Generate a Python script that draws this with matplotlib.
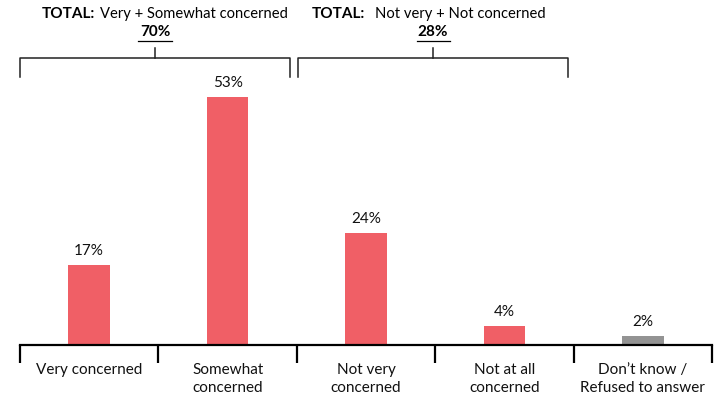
import numpy as np
import matplotlib
matplotlib.use("Agg")
import matplotlib.pyplot as plt

# datos
categories = ["Very concerned", "Somewhat\nconcerned", "Not very\nconcerned",
              "Not at all\nconcerned", "Don\u2019t know /\nRefused to answer"]
values = [17, 53, 24, 4, 2]
bar_colors = ["#F05F66", "#F05F66", "#F05F66", "#F05F66", "#939393"]
totals = [70, 28]
total_labels = ["Very + Somewhat concerned", "Not very + Not concerned"]

plt.rcParams['font.family'] = ['Lato', 'DejaVu Sans']
plt.rcParams['font.size'] = 11

fig = plt.figure(figsize=(7.19, 3.96), dpi=100)
ax = fig.add_axes([20/719, 51/396, 692/719, 281/396])

x = np.arange(len(values))
bars = ax.bar(x, values, width=0.3, color=bar_colors, zorder=2)
for xi, v in zip(x, values):
    ax.annotate(f"{v}%", (xi, v), xytext=(0, 5), textcoords="offset points",
                ha="center", va="bottom", fontsize=11, color="#111111")

ax.set_xlim(-0.5, 4.5)
ax.set_ylim(0, 60)
ax.set_yticks([])
for s in ["top", "right", "left"]:
    ax.spines[s].set_visible(False)
ax.spines["bottom"].set_linewidth(1.6)
ax.set_xticks(x)
ax.set_xticklabels(categories, fontsize=11, color="#111111", linespacing=1.35)
ax.tick_params(axis="x", which="major", length=0, pad=13)
ax.set_xticks(np.arange(-0.5, 5.0, 1.0), minor=True)
ax.tick_params(axis="x", which="minor", length=13, width=1.6, direction="out")

# brackets
brackets = [(-0.5, 1.45), (1.51, 3.46)]
for (x0, x1) in brackets:
    ax.plot([x0, x0, x1, x1], [57.3, 61.3, 61.3, 57.3], color="#222222",
            lw=1.1, clip_on=False)
    xm = (x0 + x1) / 2
    ax.plot([xm, xm], [61.3, 63.5], color="#222222", lw=1.1, clip_on=False)

# titles
ax.text(0.042, 70.7, "TOTAL:", fontweight="bold", ha="right", va="center",
        fontsize=11, clip_on=False)
ax.text(0.078, 70.7, total_labels[0], ha="left", va="center", fontsize=10.6, clip_on=False)
ax.text(1.993, 70.7, "TOTAL:", fontweight="bold", ha="right", va="center",
        fontsize=11, clip_on=False)
ax.text(2.065, 70.7, total_labels[1], ha="left", va="center", fontsize=10.6, clip_on=False)

for (x0, x1), t in zip(brackets, totals):
    xm = (x0 + x1) / 2
    ax.text(xm, 66.8, f"{t}%", fontweight="bold", ha="center", va="center",
            fontsize=11, clip_on=False)
    ax.plot([xm - 0.12, xm + 0.12], [65.0, 65.0], color="black", lw=0.9, clip_on=False)

fig.savefig("out.png", dpi=100)
